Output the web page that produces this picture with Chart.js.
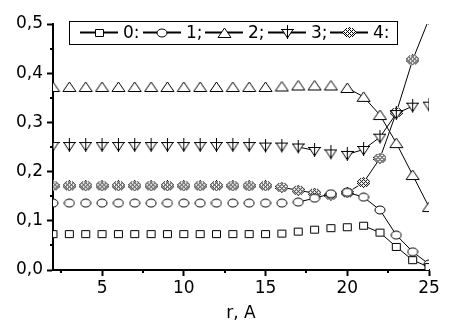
<!DOCTYPE html>
<html>
<head>
<meta charset="utf-8">
<script src="https://cdn.jsdelivr.net/npm/chart.js@4/dist/chart.umd.min.js"></script>
<style>
html,body{margin:0;padding:0;background:#fff;}
#wrap{position:relative;width:467px;height:326px;}
</style>
</head>
<body>
<div id="wrap"><canvas id="c" width="467" height="326"></canvas></div>
<script>
// ---- data ----
const radii = [2,3,4,5,6,7,8,9,10,11,12,13,14,15,16,17,18,19,20,21,22,23,24,25];
const seriesNames = ['0:', '1;', '2;', '3;', '4:'];
const s0 = [0.073,0.073,0.073,0.073,0.073,0.073,0.073,0.073,0.073,0.073,0.073,0.073,0.073,0.073,0.074,0.078,0.082,0.085,0.087,0.090,0.076,0.047,0.020,0.006];
const s1 = [0.136,0.136,0.136,0.136,0.136,0.136,0.136,0.136,0.136,0.136,0.136,0.136,0.136,0.136,0.136,0.138,0.146,0.155,0.158,0.148,0.122,0.071,0.037,0.012];
const s2 = [0.372,0.372,0.372,0.372,0.372,0.372,0.372,0.372,0.372,0.372,0.372,0.372,0.372,0.372,0.373,0.375,0.375,0.375,0.370,0.352,0.315,0.258,0.193,0.128];
const s3 = [0.253,0.253,0.253,0.253,0.253,0.253,0.253,0.253,0.253,0.253,0.253,0.253,0.253,0.252,0.252,0.250,0.243,0.238,0.235,0.245,0.270,0.318,0.333,0.335];
const s4 = [0.171,0.171,0.171,0.171,0.171,0.171,0.171,0.171,0.171,0.171,0.171,0.171,0.171,0.171,0.168,0.162,0.156,0.152,0.157,0.178,0.227,0.320,0.427,0.510];
const xTickValues = [2.5,5,7.5,10,12.5,15,17.5,20,22.5,25];
const xMajorTicks = [5,10,15,20,25];
const xTickLabels = ['5','10','15','20','25'];
const yTickValues = [0,0.05,0.1,0.15,0.2,0.25,0.3,0.35,0.4,0.45,0.5];
const yMajorTicks = [0,0.1,0.2,0.3,0.4,0.5];
const yTickLabels = ['0,0','0,1','0,2','0,3','0,4','0,5'];
const xTitle = 'r, A';

// ---- marker images ----
function mk(w, h, draw) {
  const c = document.createElement('canvas');
  c.width = w; c.height = h;
  const g = c.getContext('2d');
  g.strokeStyle = '#000'; g.fillStyle = '#fff'; g.lineWidth = 1;
  draw(g, c);
  return c;
}
const mSquare = mk(11, 10, g => { g.beginPath(); g.rect(1.5, 1.5, 8, 7); g.fill(); g.stroke(); });
const mCircle = mk(12, 10, g => { g.beginPath(); g.ellipse(6, 5, 5, 4, 0, 0, Math.PI * 2); g.fill(); g.stroke(); });
const mTri = mk(15, 12, g => { g.beginPath(); g.moveTo(7.5, 1); g.lineTo(14, 10.5); g.lineTo(1, 10.5); g.closePath(); g.fill(); g.stroke(); });
const mDownPlus = mk(13, 15, g => {
  g.beginPath(); g.moveTo(1, 4.5); g.lineTo(12, 4.5); g.lineTo(6.5, 13); g.closePath(); g.fill(); g.stroke();
  g.beginPath(); g.moveTo(0, 4.5); g.lineTo(13, 4.5); g.moveTo(6.5, 0); g.lineTo(6.5, 14); g.stroke();
});
const mHatch = mk(13, 11, g => {
  for (let i = 0; i < 13; i++) for (let j = 0; j < 11; j++) {
    const dx = (i + 0.5 - 6.5) / 6.2, dy = (j + 0.5 - 5.5) / 5.2;
    const d = dx * dx + dy * dy;
    if (d <= 1) {
      const edge = d > 0.7 && (i + j) % 2 === 0;
      const hatch = (i + j) % 4 === 0 || (i - j + 40) % 4 === 0;
      g.fillStyle = (edge || hatch) ? '#000' : '#fff';
      g.fillRect(i, j, 1, 1);
    }
  }
});
const markers = [mSquare, mCircle, mTri, mDownPlus, mHatch];
const seriesValues = [s0, s1, s2, s3, s4];

const FONT = { family: 'DejaVu Sans', size: 17 };

// ---- legend drawn inside the plot ----
const legendBox = {
  id: 'legendBox',
  afterDraw(chart) {
    const ctx = chart.ctx;
    ctx.save();
    ctx.fillStyle = '#fff';
    ctx.strokeStyle = '#000';
    ctx.lineWidth = 1;
    ctx.fillRect(69.5, 21.5, 328, 23);
    ctx.strokeRect(69.5, 21.5, 328, 23);
    const starts = [80, 143, 205, 268, 330];
    const cy = 32.5;
    ctx.font = FONT.size + 'px "' + FONT.family + '"';
    ctx.textBaseline = 'middle';
    ctx.textAlign = 'left';
    chart.data.datasets.forEach((ds, i) => {
      const x0 = starts[i];
      ctx.strokeStyle = '#000';
      ctx.lineWidth = 2;
      ctx.beginPath(); ctx.moveTo(x0, cy); ctx.lineTo(x0 + 38, cy); ctx.stroke();
      const m = ds.pointStyle;
      ctx.drawImage(m, Math.round(x0 + 19 - m.width / 2), Math.round(cy - m.height / 2));
      ctx.fillStyle = '#000';
      ctx.fillText(ds.label, x0 + 43, cy + 1);
    });
    ctx.restore();
  }
};

// ---- minor ticks (shorter) ----
const minorTicks = {
  id: 'minorTicks',
  afterDraw(chart) {
    const ctx = chart.ctx, xs = chart.scales.x, ys = chart.scales.y;
    ctx.save();
    ctx.strokeStyle = '#000'; ctx.lineWidth = 2;
    xTickValues.filter(v => !xMajorTicks.includes(v)).forEach(v => {
      const px = Math.round(xs.getPixelForValue(v));
      ctx.beginPath(); ctx.moveTo(px, xs.top); ctx.lineTo(px, xs.top + 3); ctx.stroke();
    });
    yTickValues.filter(v => !yMajorTicks.some(m => Math.abs(m - v) < 1e-9)).forEach(v => {
      const py = Math.round(ys.getPixelForValue(v));
      ctx.beginPath(); ctx.moveTo(ys.right, py); ctx.lineTo(ys.right - 3, py); ctx.stroke();
    });
    ctx.restore();
  }
};

const isMajorX = v => xMajorTicks.includes(v);
const isMajorY = v => yMajorTicks.some(m => Math.abs(m - v) < 1e-9);

new Chart(document.getElementById('c'), {
  type: 'line',
  data: {
    datasets: seriesValues.map((vals, i) => ({
      label: seriesNames[i],
      data: radii.map((r, k) => ({ x: r, y: vals[k] })),
      borderColor: '#000',
      borderWidth: 1,
      pointStyle: markers[i],
      pointRadius: 5,
      pointHoverRadius: 5,
      clip: 0,
      segment: {
        borderColor: c => Math.abs(c.p1.y - c.p0.y) < 2.5 ? 'rgba(0,0,0,0)' : '#000'
      }
    }))
  },
  options: {
    responsive: false,
    animation: false,
    devicePixelRatio: 1,
    layout: { padding: { top: 24, right: 38, left: 0, bottom: 0 } },
    plugins: { legend: { display: false }, tooltip: { enabled: false } },
    scales: {
      x: {
        type: 'linear', min: 2, max: 25, position: 'bottom',
        afterBuildTicks: s => { s.ticks = xTickValues.map(v => ({ value: v })); },
        afterFit: s => { s.height = 56; },
        ticks: {
          autoSkip: false, maxRotation: 0, color: '#000', font: FONT, padding: 2,
          callback: v => { const k = xMajorTicks.indexOf(v); return k >= 0 ? xTickLabels[k] : ''; }
        },
        grid: {
          drawOnChartArea: false, drawTicks: true, tickLength: 6,
          tickColor: c => (c.tick && isMajorX(c.tick.value)) ? '#000' : 'rgba(0,0,0,0)',
          tickWidth: 2
        },
        border: { display: true, color: '#000', width: 2 },
        title: { display: true, text: xTitle, color: '#000', font: FONT, padding: { top: 0, bottom: 2 } }
      },
      y: {
        type: 'linear', min: 0, max: 0.5, position: 'left',
        afterBuildTicks: s => { s.ticks = yTickValues.map(v => ({ value: v })); },
        afterFit: s => { s.width = 53; },
        ticks: {
          autoSkip: false, color: '#000', font: FONT, padding: 4,
          callback: v => { const k = yMajorTicks.findIndex(m => Math.abs(m - v) < 1e-9); return k >= 0 ? yTickLabels[k] : ''; }
        },
        grid: {
          drawOnChartArea: false, drawTicks: true, tickLength: 6,
          tickColor: c => (c.tick && isMajorY(c.tick.value)) ? '#000' : 'rgba(0,0,0,0)',
          tickWidth: 2
        },
        border: { display: true, color: '#000', width: 2 }
      }
    }
  },
  plugins: [minorTicks, legendBox]
});
</script>
</body>
</html>
